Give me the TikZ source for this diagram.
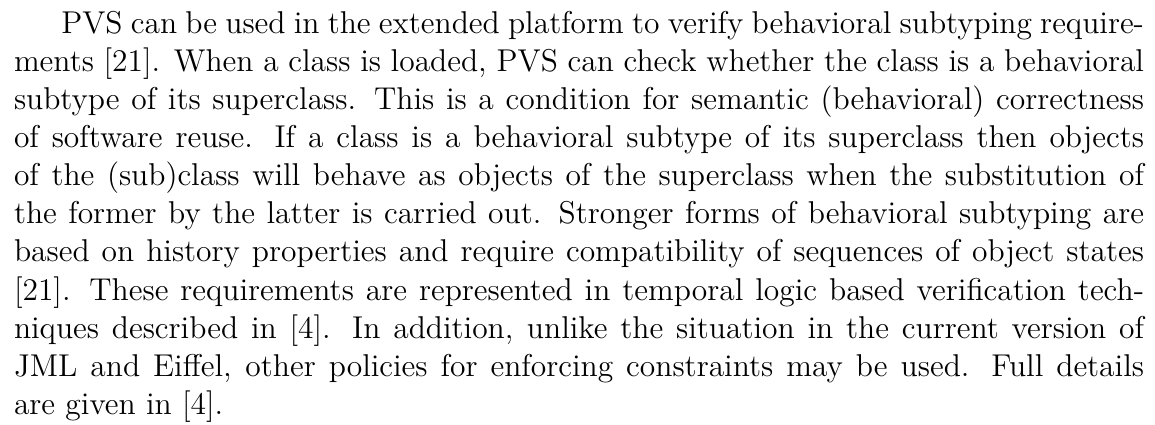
\documentclass[tikz,border=0pt]{standalone}
\usepackage{fontspec}
\tikzset{
  paragraph/.style={anchor=north west, inner sep=0pt, outer sep=0pt,
    text width=430pt, align=justify,
    font=\fontsize{12}{14.5}\selectfont}
}
\begin{document}
\begin{tikzpicture}
  % page area
  \fill[white] (0,0) rectangle (439.5pt,-161.7pt);
  \useasboundingbox (0,0) rectangle (439.5pt,-161.7pt);
  % the paragraph, first baseline 12.56pt below the top edge
  \node[paragraph] (para) at (5.33pt,-4.23pt) {%
    \hspace*{18pt}PVS can be used in the extended platform to verify behavioral subtyping require-\linebreak{}
    ments [21]. When a class is loaded, PVS can check whether the class is a behavioral\linebreak{}
    subtype of its superclass. This is a condition for semantic (behavioral) correctness\linebreak{}
    of software reuse. If a class is a behavioral subtype of its superclass then objects\linebreak{}
    of the (sub)class will behave as objects of the superclass when the substitution of\linebreak{}
    the former by the latter is carried out. Stronger forms of behavioral subtyping are\linebreak{}
    based on history properties and require compatibility of sequences of object states\linebreak{}
    {[21]}. These requirements are represented in temporal logic based verification tech-\linebreak{}
    niques described in [4]. In addition, unlike the situation in the current version of\linebreak{}
    JML and Eiffel, other policies for enforcing constraints may be used. Full details\linebreak{}
    are given in [4].};
\end{tikzpicture}
\end{document}
